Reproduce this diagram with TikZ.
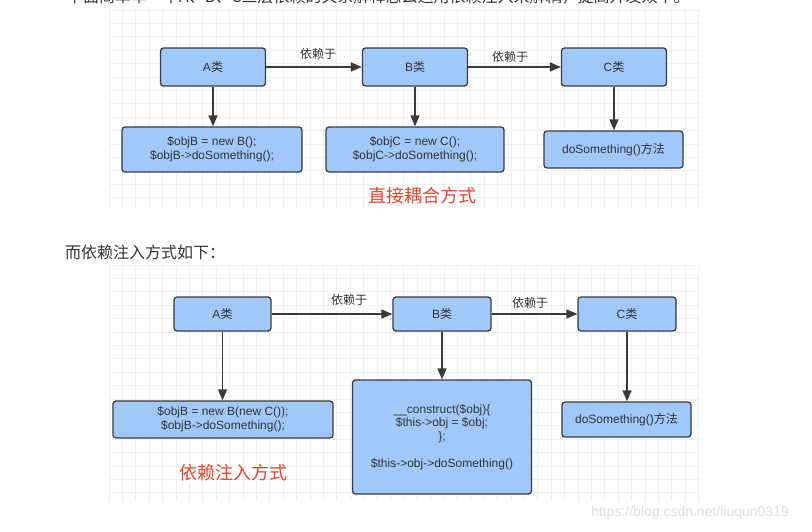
\documentclass[tikz,border=0pt]{standalone}
\usepackage{fontspec}
\setmainfont{Liberation Sans}
\newfontfamily\cjk{Noto Sans CJK SC}
\usetikzlibrary{arrows.meta}
\definecolor{boxfill}{RGB}{160,200,248}
\definecolor{boxline}{RGB}{58,58,58}
\definecolor{txt}{RGB}{51,51,51}
\definecolor{redtxt}{RGB}{232,67,45}
\definecolor{gridc}{RGB}{240,240,240}
\definecolor{wmark}{RGB}{222,222,222}
\begin{document}
\begin{tikzpicture}[x=1pt,y=-1pt,
  box/.style={draw=boxline, line width=1.3pt, fill=boxfill, rounded corners=3pt,
    text=txt, font=\fontsize{12}{14.5}\selectfont, align=center, inner sep=0pt},
  clsbox/.style={box, font=\fontsize{12}{14}\selectfont},
  conn/.style={draw=boxline, line width=1.5pt, -{Triangle[length=11pt,width=9pt]}},
  deplabel/.style={font=\cjk\fontsize{12}{14}\selectfont, text=txt, inner sep=0pt},
  redlabel/.style={font=\cjk\fontsize{18}{20}\selectfont, text=redtxt, inner sep=0pt},
  bodytext/.style={font=\cjk\fontsize{16}{18}\selectfont, text=txt, inner sep=0pt, anchor=west},
  gridline/.style={draw=gridc, line width=0.8pt}]
\useasboundingbox (0,0) rectangle (812,532);
\fill[white] (0,0) rectangle (812,532);
% grid panels
\begin{scope}
  \clip (109,10) rectangle (700,207);
  \foreach \i in {0,...,45} \draw[gridline] (109+13.4*\i,0) -- (109+13.4*\i,220);
  \foreach \j in {0,...,15} \draw[gridline] (100,10+13.4*\j) -- (710,10+13.4*\j);
\end{scope}
\begin{scope}
  \clip (109,265) rectangle (700,500);
  \foreach \i in {0,...,45} \draw[gridline] (109+13.4*\i,260) -- (109+13.4*\i,510);
  \foreach \j in {0,...,18} \draw[gridline] (100,265+13.4*\j) -- (710,265+13.4*\j);
\end{scope}
% page text
\node[bodytext] (intro) at (67,-3) {下面简单举一个A、B、C三层依赖的关系解释怎么运用依赖注入来解耦，提高开发效率。};
\node[bodytext] (intro2) at (65,252) {而依赖注入方式如下：};
% panel 1
\node[clsbox, minimum width=105pt, minimum height=38pt] (A1) at (213,67) {A{\cjk 类}};
\node[clsbox, minimum width=105pt, minimum height=38pt] (B1) at (415,67) {B{\cjk 类}};
\node[clsbox, minimum width=105pt, minimum height=38pt] (C1) at (614,67) {C{\cjk 类}};
\node[box, minimum width=180pt, minimum height=45pt] (D1) at (212,149.5) {\$objB = new B();\\\$objB->doSomething();};
\node[box, minimum width=178pt, minimum height=45pt] (E1) at (415,149.5) {\$objC = new C();\\\$objC->doSomething();};
\node[box, minimum width=139pt, minimum height=37pt] (F1) at (613.5,149.5) {doSomething(){\cjk 方法}};
\draw[conn] (A1.east) -- (B1.west);
\draw[conn] (B1.east) -- (C1.west);
\draw[conn] (A1.south) -- (A1.south |- D1.north);
\draw[conn] (B1.south) -- (B1.south |- E1.north);
\draw[conn] (C1.south) -- (C1.south |- F1.north);
\node[deplabel] (L1) at (318,54) {依赖于};
\node[deplabel] (L2) at (510,57) {依赖于};
\node[redlabel] (R1) at (422,196) {直接耦合方式};
% panel 2
\node[clsbox, minimum width=97pt, minimum height=34pt] (A2) at (222.5,314) {A{\cjk 类}};
\node[clsbox, minimum width=98pt, minimum height=34pt] (B2) at (442,314) {B{\cjk 类}};
\node[clsbox, minimum width=98pt, minimum height=34pt] (C2) at (627,314) {C{\cjk 类}};
\node[box, minimum width=220pt, minimum height=37pt] (D2) at (223,419.5) {\$objB = new B(new C());\\\$objB->doSomething();};
\node[box, minimum width=179pt, minimum height=114pt, font=\fontsize{12}{13.5}\selectfont] (E2) at (442,437) {\_\_construct(\$obj)\{\\\$this->obj = \$obj;\\\};\\[13.5pt]\$this->obj->doSomething()};
\node[box, minimum width=129pt, minimum height=35pt] (F2) at (626.5,419.5) {doSomething(){\cjk 方法}};
\draw[conn] (A2.east) -- (B2.west);
\draw[conn] (B2.east) -- (C2.west);
\draw[conn] (A2.south) -- (A2.south |- D2.north);
\draw[conn] (B2.south) -- (B2.south |- E2.north);
\draw[conn] (C2.south) -- (C2.south |- F2.north);
\node[deplabel] (L3) at (349,300) {依赖于};
\node[deplabel] (L4) at (530,303) {依赖于};
\node[redlabel] (R2) at (233,473) {依赖注入方式};
% watermark
\node[font=\fontsize{14}{16}\selectfont, text=wmark, inner sep=0pt] (wm) at (690,513) {https://blog.csdn.net/liuqun0319};
\end{tikzpicture}
\end{document}
